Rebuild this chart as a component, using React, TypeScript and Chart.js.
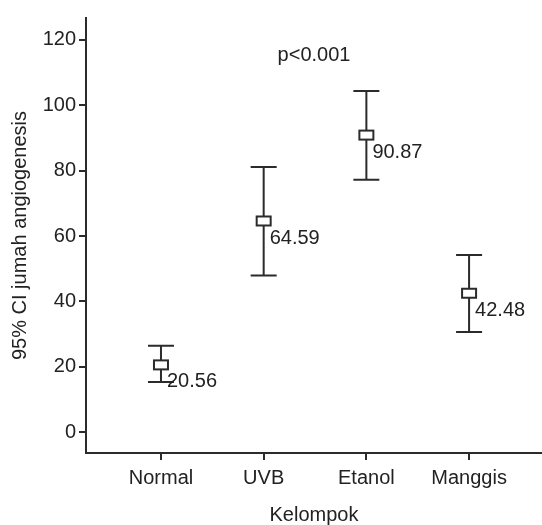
import { useEffect, useRef } from 'react';
import { Chart, registerables } from 'chart.js';

Chart.register(...registerables);

const categories = ['Normal', 'UVB', 'Etanol', 'Manggis'];
const means = [20.56, 64.59, 90.87, 42.48];
const lowerCI = [15.3, 47.9, 77.2, 30.6];
const upperCI = [26.4, 81.1, 104.4, 54.2];
const yTicks = [0, 20, 40, 60, 80, 100, 120];
const annotationText = 'p<0.001';
const yTitle = '95% CI jumah angiogenesis';
const xTitle = 'Kelompok';

const FONT = '"Liberation Sans", Arial, sans-serif';
const INK = '#2b2b2b';
const TEXT = '#222222';

const errorBarPlugin = {
  id: 'errorBars',
  afterDatasetsDraw(chart: any) {
    const { ctx, scales, chartArea } = chart;
    const x = scales.x;
    const y = scales.y;
    ctx.save();
    ctx.strokeStyle = INK;
    ctx.lineWidth = 2;
    means.forEach((m, i) => {
      const px = x.getPixelForValue(i + 1);
      const top = y.getPixelForValue(upperCI[i]);
      const bot = y.getPixelForValue(lowerCI[i]);
      const my = y.getPixelForValue(m);
      ctx.beginPath();
      ctx.moveTo(px, top);
      ctx.lineTo(px, bot);
      ctx.moveTo(px - 13, top);
      ctx.lineTo(px + 13, top);
      ctx.moveTo(px - 13, bot);
      ctx.lineTo(px + 13, bot);
      ctx.stroke();
      ctx.fillStyle = '#ffffff';
      ctx.fillRect(px - 7, my - 4.5, 14, 9);
      ctx.strokeRect(px - 7, my - 4.5, 14, 9);
      ctx.fillStyle = TEXT;
      ctx.font = `20px ${FONT}`;
      ctx.textAlign = 'left';
      ctx.textBaseline = 'middle';
      ctx.fillText(m.toFixed(2), px + 6, my + 17);
    });
    ctx.fillStyle = TEXT;
    ctx.font = `20px ${FONT}`;
    ctx.textAlign = 'center';
    ctx.textBaseline = 'middle';
    ctx.fillText(annotationText, (chartArea.left + chartArea.right) / 2, chartArea.top + 37);
    ctx.restore();
  },
};

export default function App() {
  const canvasRef = useRef<HTMLCanvasElement | null>(null);

  useEffect(() => {
    document.body.style.margin = '0';
    const canvas = canvasRef.current;
    if (!canvas) return;
    const chart = new Chart(canvas, {
      type: 'scatter',
      data: {
        datasets: [
          {
            data: means.map((m, i) => ({ x: i + 1, y: m })),
            pointRadius: 0,
            showLine: false,
          },
        ],
      },
      options: {
        animation: false,
        responsive: true,
        maintainAspectRatio: false,
        layout: { padding: { top: 18, right: 0, left: 0, bottom: 0 } },
        plugins: {
          legend: { display: false },
          tooltip: { enabled: false },
        },
        scales: {
          x: {
            type: 'linear',
            min: 0.27,
            max: 4.71,
            afterBuildTicks: (scale: any) => {
              scale.ticks = categories.map((_, i) => ({ value: i + 1 }));
            },
            afterFit: (scale: any) => {
              scale.height = 72;
            },
            ticks: {
              autoSkip: false,
              maxRotation: 0,
              padding: 6,
              color: TEXT,
              font: { family: FONT, size: 20 },
              callback: (v: any) => categories[Math.round(Number(v)) - 1] ?? '',
            },
            grid: {
              drawOnChartArea: false,
              drawTicks: true,
              tickLength: 7,
              color: INK,
              lineWidth: 2,
            },
            border: { display: true, color: INK, width: 2 },
            title: {
              display: true,
              text: xTitle,
              color: TEXT,
              font: { family: FONT, size: 20, lineHeight: 1 },
              padding: 0,
            },
          },
          y: {
            type: 'linear',
            min: -6.4,
            max: 126.7,
            afterBuildTicks: (scale: any) => {
              scale.ticks = yTicks.map((v) => ({ value: v }));
            },
            afterFit: (scale: any) => {
              scale.width = 86;
            },
            ticks: {
              padding: 3,
              color: TEXT,
              font: { family: FONT, size: 20 },
            },
            grid: {
              drawOnChartArea: false,
              drawTicks: true,
              tickLength: 7,
              color: INK,
              lineWidth: 2,
            },
            border: { display: true, color: INK, width: 2 },
            title: {
              display: true,
              text: yTitle,
              color: TEXT,
              font: { family: FONT, size: 20, lineHeight: 1.2 },
              padding: { top: 8, bottom: 0 },
            },
          },
        },
      },
      plugins: [errorBarPlugin],
    });
    return () => chart.destroy();
  }, []);

  return (
    <div style={{ width: '542px', height: '525px', position: 'relative' }}>
      <canvas ref={canvasRef} />
    </div>
  );
}
